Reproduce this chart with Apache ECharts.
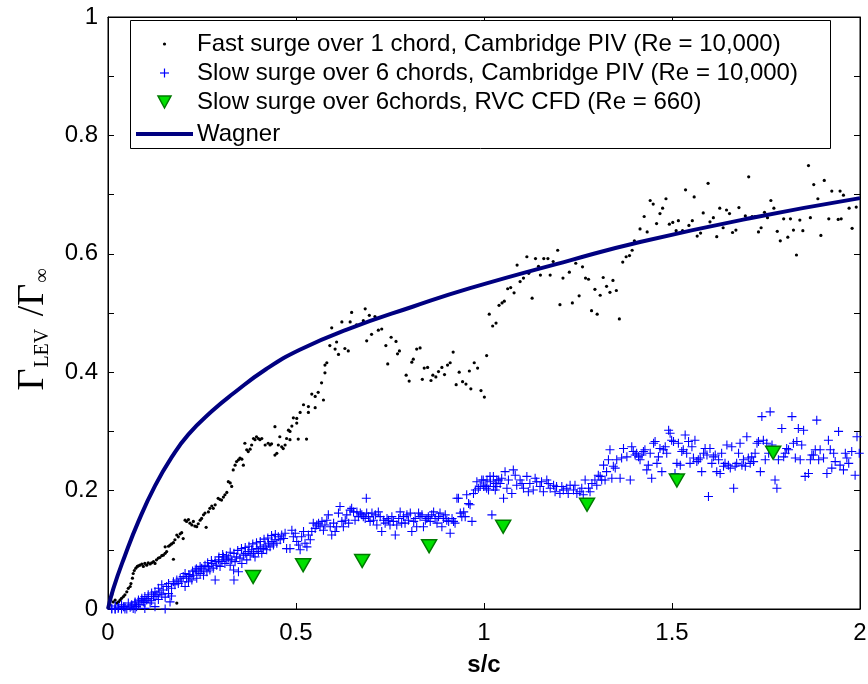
<!DOCTYPE html>
<html>
<head>
<meta charset="utf-8">
<script src="https://cdn.jsdelivr.net/npm/echarts@6/dist/echarts.min.js"></script>
<style>html,body{margin:0;padding:0;background:#fff}#c{width:868px;height:684px}</style>
</head>
<body>
<div id="c"></div>
<script>
// ---------- DATA (s/c , Gamma_LEV / Gamma_inf) ----------
const fastSurgePIV = [
[0.010,0.024],[0.014,0.012],[0.019,0.015],[0.023,0.010],[0.028,0.012],[0.032,0.015],[0.036,0.018],[0.041,0.021],[0.045,0.024],[0.050,0.029],
[0.054,0.035],[0.059,0.038],[0.061,0.043],[0.065,0.052],[0.067,0.060],[0.070,0.065],[0.074,0.069],[0.078,0.072],[0.081,0.073],[0.085,0.074],
[0.090,0.076],[0.094,0.072],[0.098,0.077],[0.103,0.074],[0.107,0.078],[0.112,0.076],[0.116,0.078],[0.121,0.080],[0.125,0.077],[0.129,0.083],
[0.134,0.086],[0.138,0.087],[0.143,0.090],[0.147,0.091],[0.152,0.094],[0.156,0.097],[0.174,0.084],[0.152,0.105],[0.161,0.106],[0.165,0.108],
[0.169,0.110],[0.174,0.112],[0.178,0.117],[0.183,0.125],[0.187,0.122],[0.192,0.127],[0.196,0.129],[0.200,0.119],[0.205,0.150],[0.209,0.148],
[0.214,0.151],[0.218,0.145],[0.223,0.142],[0.227,0.148],[0.231,0.140],[0.236,0.139],[0.240,0.144],[0.245,0.150],[0.249,0.153],[0.254,0.159],
[0.258,0.162],[0.261,0.138],[0.267,0.164],[0.271,0.170],[0.276,0.174],[0.280,0.170],[0.285,0.176],[0.293,0.187],[0.298,0.185],[0.302,0.184],
[0.307,0.189],[0.311,0.193],[0.316,0.197],[0.320,0.215],[0.325,0.213],[0.329,0.207],[0.333,0.235],[0.338,0.243],[0.342,0.249],[0.347,0.252],
[0.351,0.255],[0.356,0.253],[0.360,0.243],[0.364,0.280],[0.369,0.269],[0.373,0.266],[0.378,0.270],[0.382,0.277],[0.387,0.288],[0.391,0.286],
[0.395,0.291],[0.400,0.288],[0.404,0.286],[0.409,0.288],[0.418,0.277],[0.426,0.280],[0.431,0.277],[0.435,0.279],[0.444,0.260],[0.449,0.263],
[0.453,0.277],[0.457,0.291],[0.462,0.274],[0.466,0.271],[0.471,0.277],[0.475,0.288],[0.480,0.302],[0.444,0.308],[0.183,0.010],
[0.484,0.286],[0.484,0.300],[0.489,0.309],[0.493,0.323],[0.502,0.322],[0.502,0.314],[0.506,0.287],[0.511,0.332],[0.520,0.345],[0.528,0.287],
[0.533,0.342],[0.533,0.332],[0.542,0.363],[0.551,0.359],[0.551,0.340],[0.559,0.366],[0.568,0.382],[0.573,0.353],[0.577,0.399],[0.577,0.412],
[0.582,0.416],[0.590,0.445],[0.595,0.475],[0.604,0.439],[0.608,0.451],[0.613,0.430],[0.622,0.485],[0.630,0.440],[0.639,0.436],[0.644,0.485],
[0.648,0.501],[0.661,0.480],[0.679,0.487],[0.684,0.507],[0.688,0.453],[0.695,0.496],[0.701,0.464],[0.710,0.494],[0.719,0.471],[0.728,0.473],
[0.739,0.445],[0.744,0.414],[0.753,0.459],[0.766,0.452],[0.770,0.431],[0.775,0.436],[0.793,0.395],[0.801,0.385],[0.808,0.417],[0.812,0.422],
[0.821,0.439],[0.830,0.441],[0.836,0.388],[0.841,0.407],[0.850,0.408],[0.859,0.386],[0.864,0.395],[0.872,0.392],[0.879,0.401],[0.888,0.408],
[0.895,0.396],[0.903,0.412],[0.910,0.416],[0.918,0.434],[0.926,0.379],[0.934,0.400],[0.943,0.384],[0.952,0.380],[0.961,0.402],[0.965,0.372],
[0.974,0.416],[0.983,0.407],[0.992,0.369],[1.001,0.358],[1.007,0.428],[1.014,0.498],[1.023,0.478],[1.032,0.483],[1.040,0.513],
[1.048,0.517],[1.054,0.520],[1.063,0.541],[1.071,0.543],[1.080,0.534],[1.088,0.581],[1.096,0.553],[1.105,0.559],[1.114,0.595],[1.119,0.567],
[1.128,0.525],[1.137,0.592],[1.145,0.579],[1.150,0.564],[1.159,0.592],[1.170,0.592],[1.176,0.564],[1.184,0.587],[1.196,0.606],[1.202,0.514],
[1.210,0.559],[1.227,0.569],[1.235,0.517],[1.244,0.584],[1.253,0.529],[1.262,0.578],[1.270,0.559],[1.278,0.557],[1.286,0.504],[1.295,0.540],
[1.301,0.498],[1.309,0.530],[1.317,0.560],[1.326,0.545],[1.335,0.535],[1.343,0.555],[1.352,0.538],[1.360,0.490],[1.369,0.586],[1.378,0.595],
[1.387,0.597],[1.394,0.606],[1.400,0.622],
[1.415,0.642],[1.426,0.663],[1.434,0.637],[1.442,0.690],[1.450,0.684],[1.459,0.651],[1.468,0.668],[1.475,0.677],[1.484,0.693],[1.493,0.650],
[1.502,0.653],[1.511,0.639],[1.517,0.656],[1.528,0.639],[1.536,0.708],[1.545,0.648],[1.554,0.656],[1.559,0.696],[1.567,0.630],[1.576,0.635],
[1.583,0.669],[1.596,0.719],[1.601,0.654],[1.610,0.661],[1.619,0.629],[1.627,0.677],[1.636,0.644],[1.645,0.674],[1.653,0.668],[1.661,0.636],
[1.670,0.640],[1.678,0.678],[1.695,0.664],[1.704,0.730],[1.713,0.663],[1.721,0.663],[1.730,0.637],[1.737,0.644],[1.746,0.670],[1.754,0.661],
[1.763,0.690],[1.771,0.677],[1.780,0.638],[1.788,0.622],[1.797,0.659],[1.808,0.628],[1.815,0.659],[1.823,0.640],[1.831,0.598],[1.840,0.657],
[1.848,0.639],[1.863,0.749],[1.868,0.661],[1.877,0.717],[1.888,0.693],[1.896,0.631],[1.905,0.724],[1.917,0.659],[1.925,0.706],[1.942,0.658],
[1.947,0.706],[1.950,0.659],[1.956,0.699],[1.971,0.677],[1.979,0.643],[1.990,0.679]
];

const slowSurgePIV = [
[0.010,0.000],[0.019,0.000],[0.027,0.001],[0.036,0.000],[0.041,0.004],[0.050,0.000],[0.059,0.003],[0.063,0.007],[0.067,0.001],[0.072,0.010],
[0.076,0.004],[0.081,0.015],[0.085,0.007],[0.090,0.018],[0.094,0.012],[0.098,0.021],[0.103,0.015],[0.107,0.024],[0.112,0.010],[0.116,0.027],
[0.121,0.021],[0.125,0.029],[0.130,0.024],[0.134,0.035],[0.138,0.027],[0.143,0.041],[0.147,0.032],[0.152,0.000],[0.156,0.038],[0.161,0.043],
[0.165,0.012],[0.169,0.035],[0.174,0.046],[0.178,0.041],[0.183,0.049],[0.187,0.043],[0.192,0.052],[0.196,0.046],[0.200,0.055],[0.205,0.038],
[0.209,0.052],[0.214,0.046],[0.218,0.055],[0.223,0.049],[0.227,0.057],[0.232,0.066],[0.236,0.052],[0.240,0.063],[0.245,0.060],[0.249,0.069],
[0.254,0.057],[0.258,0.074],[0.263,0.063],[0.267,0.072],[0.271,0.066],[0.276,0.077],[0.280,0.069],[0.285,0.049],[0.289,0.074],[0.294,0.083],
[0.298,0.072],[0.303,0.080],[0.307,0.088],[0.311,0.077],[0.316,0.083],[0.320,0.086],[0.325,0.074],[0.329,0.083],[0.334,0.066],[0.335,0.049],
[0.338,0.080],[0.342,0.088],[0.347,0.063],[0.351,0.086],[0.356,0.077],[0.360,0.091],[0.365,0.094],[0.369,0.083],[0.373,0.097],[0.378,0.091],
[0.382,0.100],[0.387,0.094],[0.391,0.088],[0.396,0.102],[0.400,0.097],[0.405,0.105],[0.409,0.094],[0.413,0.102],[0.418,0.108],[0.422,0.100],
[0.427,0.111],[0.431,0.105],[0.436,0.114],[0.440,0.108],[0.444,0.117],[0.449,0.111],[0.453,0.122],[0.458,0.117],[0.462,0.125],[0.467,0.119],
[0.471,0.128],[0.475,0.102],[0.484,0.102],[0.489,0.133],[0.493,0.122],[0.498,0.128],[0.502,0.114],[0.507,0.108],[0.511,0.100],[0.515,0.122],
[0.520,0.131],[0.524,0.111],[0.529,0.105],[0.533,0.125],[0.538,0.117],[0.542,0.131],[0.546,0.145],[0.551,0.136],[0.555,0.142],[0.560,0.145],
[0.564,0.139],[0.569,0.148],[0.573,0.133],[0.577,0.142],[0.582,0.150],[0.586,0.159],[0.591,0.139],[0.595,0.125],[0.600,0.145],[0.604,0.131],
[0.608,0.139],[0.613,0.162],[0.617,0.173],[0.622,0.148],[0.626,0.139],[0.631,0.150],[0.635,0.159],[0.640,0.145],[0.644,0.167],[0.648,0.170],
[0.653,0.164],[0.657,0.150],[0.662,0.164],[0.666,0.156],[0.671,0.162],[0.675,0.159],[0.679,0.156],[0.684,0.153],[0.687,0.187],[0.688,0.162],
[0.693,0.156],[0.697,0.148],[0.702,0.162],[0.706,0.150],[0.711,0.159],[0.715,0.142],[0.719,0.164],[0.724,0.156],[0.728,0.131],[0.733,0.150],
[0.737,0.145],[0.742,0.153],[0.746,0.150],[0.750,0.142],[0.755,0.156],[0.759,0.148],[0.764,0.125],[0.768,0.142],[0.773,0.153],[0.777,0.164],
[0.781,0.145],[0.786,0.156],[0.790,0.145],[0.795,0.159],[0.799,0.150],[0.804,0.162],[0.808,0.131],[0.813,0.148],[0.817,0.153],[0.821,0.139],
[0.826,0.162],[0.830,0.156],[0.835,0.159],[0.839,0.139],[0.844,0.150],[0.848,0.153],[0.852,0.156],[0.857,0.148],[0.861,0.159],[0.866,0.164],
[0.870,0.153],[0.875,0.145],[0.879,0.156],[0.883,0.162],[0.888,0.139],[0.892,0.153],[0.897,0.159],[0.901,0.150],[0.906,0.148],[0.910,0.128],
[0.915,0.153],[0.919,0.148],[0.923,0.145],[0.928,0.187],[0.932,0.187],[0.937,0.162],[0.941,0.156],[0.946,0.164],[0.950,0.156],[0.954,0.193],
[0.959,0.178],[0.963,0.176],[0.968,0.148],[0.972,0.195],[0.977,0.201],[0.981,0.215],[0.985,0.204],[0.990,0.207],[0.994,0.218],[0.999,0.207],
[1.003,0.209],[1.008,0.218],[1.012,0.201],[1.017,0.215],[1.021,0.159],[1.025,0.224],[1.030,0.212],[1.034,0.207],[1.039,0.218],
[0.998,0.218],[1.007,0.204],[1.016,0.224],[1.025,0.207],[1.034,0.218],[1.043,0.212],[1.052,0.187],[1.056,0.232],[1.065,0.218],[1.074,0.195],
[1.078,0.235],[1.087,0.209],[1.096,0.218],[1.105,0.204],[1.114,0.224],[1.122,0.212],[1.131,0.201],[1.140,0.215],[1.149,0.207],[1.158,0.198],
[1.167,0.218],[1.176,0.204],[1.185,0.209],[1.193,0.207],[1.202,0.195],[1.211,0.201],[1.220,0.204],[1.229,0.209],[1.238,0.201],[1.247,0.195],
[1.255,0.198],[1.264,0.193],[1.269,0.218],[1.278,0.204],[1.287,0.212],[1.295,0.218],[1.300,0.209],[1.309,0.224],[1.313,0.218],[1.318,0.243],
[1.322,0.218],[1.326,0.232],[1.331,0.252],[1.335,0.269],[1.340,0.221],[1.344,0.241],[1.349,0.238],[1.353,0.252],[1.362,0.221],[1.366,0.255],
[1.371,0.271],[1.380,0.257],[1.389,0.218],[1.393,0.274],[1.397,0.266],[1.402,0.260],[1.406,0.263],[1.411,0.257],[1.415,0.252],[1.420,0.260],
[1.424,0.266],[1.428,0.269],[1.433,0.235],[1.437,0.243],[1.442,0.263],[1.446,0.221],[1.451,0.280],[1.455,0.283],[1.460,0.246],[1.464,0.257],
[1.468,0.271],[1.473,0.232],[1.477,0.269],[1.482,0.274],[1.486,0.263],[1.491,0.302],[1.495,0.297],[1.499,0.285],[1.504,0.283],[1.508,0.229],
[1.513,0.246],[1.517,0.280],[1.522,0.243],[1.526,0.266],[1.530,0.269],[1.535,0.294],[1.539,0.263],[1.544,0.283],[1.548,0.246],[1.553,0.274],
[1.557,0.255],[1.561,0.285],[1.566,0.249],[1.570,0.252],[1.575,0.255],[1.579,0.232],[1.584,0.263],[1.588,0.271],[1.593,0.260],[1.597,0.190],
[1.601,0.271],[1.606,0.246],[1.610,0.257],[1.615,0.260],[1.619,0.232],[1.624,0.252],[1.628,0.229],[1.632,0.263],[1.637,0.241],[1.641,0.246],
[1.646,0.277],[1.650,0.243],[1.655,0.238],[1.659,0.274],[1.664,0.204],[1.668,0.241],[1.672,0.246],[1.677,0.263],[1.681,0.280],[1.686,0.243],
[1.690,0.252],[1.695,0.241],[1.699,0.291],[1.703,0.255],[1.708,0.246],[1.712,0.257],[1.717,0.249],[1.721,0.263],[1.726,0.280],[1.730,0.283],
[1.735,0.232],[1.739,0.325],[1.743,0.285],[1.748,0.252],[1.752,0.280],[1.757,0.263],[1.761,0.333],[1.766,0.277],[1.774,0.218],[1.779,0.204],
[1.783,0.252],[1.792,0.305],[1.797,0.257],[1.801,0.263],[1.805,0.271],[1.810,0.269],[1.819,0.325],[1.823,0.280],[1.828,0.255],[1.832,0.283],
[1.836,0.305],[1.841,0.252],[1.845,0.277],[1.850,0.302],[1.854,0.224],[1.863,0.229],[1.868,0.252],[1.872,0.260],[1.876,0.260],[1.881,0.269],
[1.885,0.319],[1.890,0.252],[1.894,0.269],[1.903,0.255],[1.912,0.229],[1.916,0.285],[1.921,0.269],[1.925,0.238],[1.930,0.263],[1.934,0.249],
[1.943,0.300],[1.947,0.243],[1.956,0.235],[1.961,0.263],[1.965,0.255],[1.970,0.246],[1.978,0.266],[1.987,0.226],[1.992,0.291],[1.998,0.263],
[0.010,0.001],[0.019,0.005],[0.028,0.003],[0.036,0.007],[0.045,0.004],[0.054,0.010],[0.063,0.005],[0.072,0.012],[0.081,0.008],[0.090,0.015],
[0.098,0.011],[0.107,0.018],[0.116,0.014],[0.125,0.021],[0.134,0.016],[0.143,0.024],[0.152,0.020],[0.161,0.026],[0.169,0.022],[0.019,0.000],
[0.045,0.000],[0.072,0.000],[0.098,0.001],[0.125,0.004],
[0.205,0.060],[0.215,0.058],[0.225,0.064],[0.235,0.068],[0.245,0.072],[0.255,0.066],[0.265,0.078],[0.275,0.082],[0.285,0.080],[0.295,0.088],
[0.305,0.092],[0.315,0.090],[0.325,0.096],[0.335,0.094],[0.345,0.099],[0.355,0.102],[0.365,0.104],[0.375,0.106],[0.385,0.110],[0.395,0.112],
[0.405,0.114],[0.415,0.118],[0.425,0.120],[0.435,0.124],[0.445,0.126],
[1.030,0.201],[1.047,0.221],[1.061,0.204],[1.083,0.226],[1.101,0.212],[1.118,0.198],[1.136,0.221],[1.153,0.215],[1.171,0.212],[1.189,0.198],
[1.207,0.207],[1.224,0.195],[1.242,0.209],[1.260,0.204],[1.282,0.198],[1.304,0.226]
];

const cfdS = [0.386, 0.519, 0.676, 0.854, 1.051, 1.274, 1.513, 1.769];
const cfdG = [0.054, 0.074, 0.081, 0.106, 0.139, 0.176, 0.217, 0.264];

const wagnerS = [0, 0.014, 0.045, 0.081, 0.125, 0.169, 0.214, 0.276, 0.333, 0.42, 0.51, 0.635, 0.812, 0.963, 1.229, 1.415, 1.707, 2.0];
const wagnerG = [0, 0.034, 0.090, 0.148, 0.208, 0.256, 0.295, 0.334, 0.364, 0.405, 0.438, 0.472, 0.511, 0.542, 0.589, 0.620, 0.660, 0.694];

const xTicks = [0, 0.5, 1, 1.5, 2];
const yTickLabels = [0, 0.2, 0.4, 0.6, 0.8, 1];

const names = [
  'Fast surge over 1 chord, Cambridge PIV (Re = 10,000)',
  'Slow surge over 6 chords, Cambridge PIV (Re = 10,000)',
  'Slow surge over 6chords, RVC CFD (Re = 660)',
  'Wagner'
];

// ---------- CHART ----------
const SANS = '"Liberation Sans", Arial, Helvetica, sans-serif';
const SERIF = '"Liberation Serif", "Times New Roman", serif';
const PLUS = 'path://M4.4,0H5.6V4.4H10V5.6H5.6V10H4.4V5.6H0V4.4H4.4Z';
const C_DOT = '#000', C_PLUS = '#0000ff', C_TRI = '#00e000', C_TRI_EDGE = '#007a00', C_WAG = '#000080';

const chart = echarts.init(document.getElementById('c'), null, {renderer: 'canvas'});

const axisCommon = {
  type: 'value',
  axisLine: {show: true, onZero: false, lineStyle: {color: '#000', width: 1}},
  axisTick: {show: true, inside: true, length: 6, lineStyle: {color: '#000', width: 1}},
  splitLine: {show: false},
  minorTick: {show: false}
};

// legend box (drawn as graphic so that icons sit exactly like the reference)
const LX = 164.5, TX = 197, rowY = [44, 73, 102, 134];
const legendFont = {fontSize: 24, fontFamily: SANS, fill: '#000', verticalAlign: 'middle', align: 'left'};
const legendEls = [
  {type: 'rect', z: 10, silent: true, shape: {x: 130.5, y: 20.5, width: 700, height: 128},
   style: {fill: '#fff', stroke: '#000', lineWidth: 1}},
  {type: 'circle', z: 11, silent: true, shape: {cx: LX, cy: rowY[0], r: 1.6}, style: {fill: C_DOT}},
  {type: 'line', z: 11, silent: true, shape: {x1: LX - 4.5, y1: rowY[1], x2: LX + 4.5, y2: rowY[1]}, style: {stroke: C_PLUS, lineWidth: 1.2}},
  {type: 'line', z: 11, silent: true, shape: {x1: LX, y1: rowY[1] - 4.5, x2: LX, y2: rowY[1] + 4.5}, style: {stroke: C_PLUS, lineWidth: 1.2}},
  {type: 'polygon', z: 11, silent: true, shape: {points: [[LX - 6.5, rowY[2] - 6], [LX + 6.5, rowY[2] - 6], [LX, rowY[2] + 6]]},
   style: {fill: C_TRI, stroke: C_TRI_EDGE, lineWidth: 1.5}},
  {type: 'line', z: 11, silent: true, shape: {x1: 136, y1: rowY[3], x2: 193, y2: rowY[3]}, style: {stroke: C_WAG, lineWidth: 4}}
];
names.forEach((n, i) => legendEls.push({
  type: 'text', z: 11, silent: true, x: TX, y: rowY[i],
  style: Object.assign({text: n}, legendFont)
}));

const option = {
  animation: false,
  backgroundColor: '#fff',
  grid: {left: 108, right: 8, top: 17, bottom: 75, show: true, borderColor: '#000', borderWidth: 1,
         backgroundColor: 'transparent', containLabel: false, outerBoundsMode: 'none'},
  xAxis: [
    Object.assign({}, axisCommon, {
      position: 'bottom', min: 0, max: 2, interval: 0.5,
      axisLabel: {show: true, margin: 12, fontSize: 24, fontFamily: SANS, color: '#000',
        formatter: v => xTicks.some(t => Math.abs(t - v) < 1e-9) ? String(+v.toFixed(1)) : ''},
      name: 's/c', nameLocation: 'middle', nameGap: 44,
      nameTextStyle: {fontSize: 24, fontWeight: 'bold', fontFamily: SANS, color: '#000'}
    }),
    Object.assign({}, axisCommon, {
      position: 'top', min: 0, max: 2, interval: 0.5, axisLabel: {show: false}
    })
  ],
  yAxis: [
    Object.assign({}, axisCommon, {
      position: 'left', min: 0, max: 1, interval: 0.1,
      axisLabel: {show: true, margin: 10, fontSize: 24, fontFamily: SANS, color: '#000',
        formatter: v => yTickLabels.some(t => Math.abs(t - v) < 1e-9) ? String(+v.toFixed(1)) : ''},
      name: '{g|Γ}{s|LEV}{g| /Γ}{s|∞}{sp| }',
      nameLocation: 'middle', nameRotate: 90, nameGap: 55,
      nameTextStyle: {
        color: '#000',
        rich: {
          g: {fontSize: 38, fontFamily: SERIF, color: '#000', lineHeight: 40},
          s: {fontSize: 20, fontFamily: SERIF, color: '#000', lineHeight: 20, verticalAlign: 'bottom', padding: [0, 3, 0, 1]},
          sp: {fontSize: 10, width: 30, lineHeight: 10}
        }
      }
    }),
    Object.assign({}, axisCommon, {
      position: 'right', min: 0, max: 1, interval: 0.1, axisLabel: {show: false}
    })
  ],
  graphic: {elements: legendEls},
  series: [
    {
      name: names[0], type: 'scatter', xAxisIndex: 0, yAxisIndex: 0,
      data: fastSurgePIV, symbol: 'circle', symbolSize: 3.2,
      itemStyle: {color: C_DOT, opacity: 1}, z: 2
    },
    {
      name: names[1], type: 'scatter', xAxisIndex: 0, yAxisIndex: 0,
      data: slowSurgePIV, symbol: PLUS, symbolSize: 9,
      itemStyle: {color: C_PLUS, opacity: 1}, z: 3
    },
    {
      name: names[2], type: 'scatter', xAxisIndex: 0, yAxisIndex: 0,
      data: cfdS.map((s, i) => [s, cfdG[i]]), symbol: 'triangle', symbolRotate: 180, symbolSize: [15, 13],
      itemStyle: {color: C_TRI, borderColor: C_TRI_EDGE, borderWidth: 1.5, opacity: 1}, z: 4
    },
    {
      name: names[3], type: 'line', xAxisIndex: 0, yAxisIndex: 0,
      data: wagnerS.map((s, i) => [s, wagnerG[i]]), showSymbol: false, symbol: 'none',
      smooth: 0.5,
      lineStyle: {color: C_WAG, width: 4}, itemStyle: {color: C_WAG}, z: 5
    }
  ]
};
chart.setOption(option);
</script>
</body>
</html>
